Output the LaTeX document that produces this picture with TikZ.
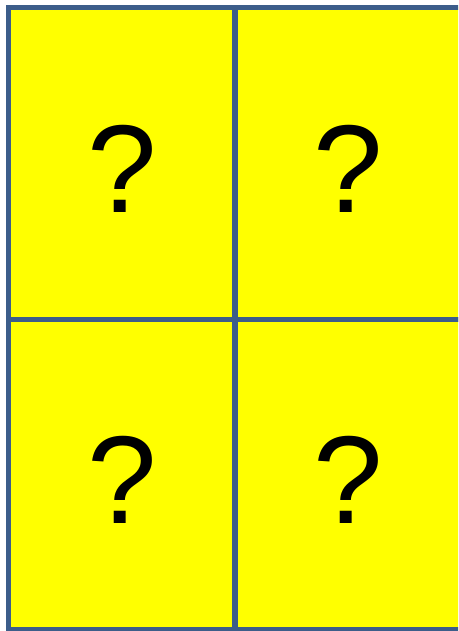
\documentclass[tikz,border=0pt]{standalone}
\usepackage{fontspec}
\setmainfont{Liberation Sans}
\definecolor{gridblue}{HTML}{3C5D8A}
\definecolor{cellyellow}{HTML}{FFFF00}
\tikzset{
  cell/.style={fill=cellyellow, draw=gridblue, line width=5.5pt},
  qmark/.style={anchor=base, inner sep=0pt, font=\fontsize{125}{125}\selectfont}
}
\begin{document}
\begin{tikzpicture}[x=1pt,y=-1pt]
\useasboundingbox (0,0) rectangle (458,631);
\fill[white] (0,0) rectangle (458,631);
\begin{scope}
\clip (0,0) rectangle (458,631);
\draw[cell] (8.5,7.5) rectangle (235,319.5);
\draw[cell] (235,7.5) rectangle (462,319.5);
\draw[cell] (8.5,319.5) rectangle (235,630);
\draw[cell] (235,319.5) rectangle (462,630);
\end{scope}
\node[qmark] (q1) at (122.5,212) {?};
\node[qmark] (q2) at (348,212) {?};
\node[qmark] (q3) at (122.5,523) {?};
\node[qmark] (q4) at (348,523) {?};
\end{tikzpicture}
\end{document}
